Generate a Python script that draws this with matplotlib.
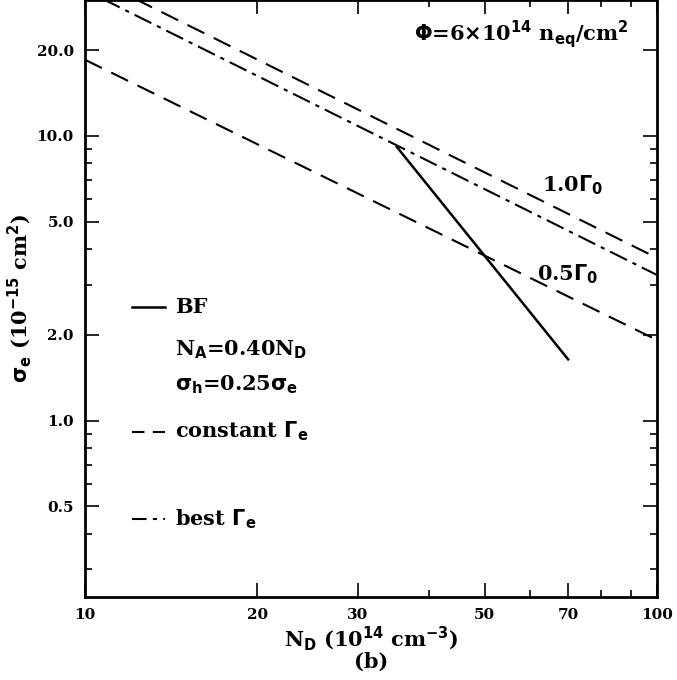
import numpy as np
import matplotlib.pyplot as plt
from matplotlib.ticker import FixedLocator, FixedFormatter, NullFormatter

# values
nd_range = [10, 100]
const_05 = [18.5, 1.92]     # constant Gamma_e, 0.5 Gamma0
const_10 = [37.0, 3.73]     # constant Gamma_e, 1.0 Gamma0
best = [32.5, 3.25]         # best Gamma_e
bf_nd = [35.1, 70]
bf_sigma = [9.15, 1.64]

x_ticks = [10, 20, 30, 50, 70, 100]
y_ticks = [0.5, 1.0, 2.0, 5.0, 10.0, 20.0]

plt.rcParams['font.family'] = 'DejaVu Serif'
plt.rcParams['font.weight'] = 'bold'
plt.rcParams['mathtext.default'] = 'bf'

fig = plt.figure(figsize=(6.77, 6.8), dpi=100)
ax = fig.add_axes([0.1256, 0.122, 0.8444, 0.878])
ax.set_xscale('log')
ax.set_yscale('log')
ax.set_xlim(10, 100)
ax.set_ylim(0.24, 30)

ax.plot(nd_range, const_05, 'k', dashes=(9, 5), lw=1.5)
ax.plot(nd_range, const_10, 'k', dashes=(9, 5), lw=1.5)
ax.plot(nd_range, best, 'k', dashes=(9, 3, 2, 3), lw=1.5)
ax.plot(bf_nd, bf_sigma, 'k-', lw=1.8)

ax.xaxis.set_major_locator(FixedLocator(x_ticks))
ax.xaxis.set_major_formatter(FixedFormatter([str(v) for v in x_ticks]))
ax.xaxis.set_minor_formatter(NullFormatter())
ax.yaxis.set_major_locator(FixedLocator(y_ticks))
ax.yaxis.set_major_formatter(FixedFormatter(['%.1f' % v for v in y_ticks]))
ax.yaxis.set_minor_formatter(NullFormatter())
ax.tick_params(which='both', direction='in', top=True, right=True, width=1.2, labelsize=11)
ax.tick_params(which='major', length=10, pad=8)
ax.tick_params(which='minor', length=5)
for s in ax.spines.values():
    s.set_linewidth(2)

ax.set_xlabel(r'N$_\mathbf{D}$ (10$^{14}$ cm$^{-3}$)', fontsize=15, fontweight='bold', labelpad=2)
ax.set_ylabel(r'$\sigma_\mathbf{e}$ (10$^{-15}$ cm$^2$)', fontsize=15, fontweight='bold', labelpad=2)
fig.text(0.548, 0.012, '(b)', ha='center', va='bottom', fontsize=15)

ax.text(0.95, 0.97, r'$\Phi$=6$\times$10$^{14}$ n$_\mathbf{eq}$/cm$^2$', transform=ax.transAxes,
        ha='right', va='top', fontsize=15)
ax.text(0.80, 0.69, r'1.0$\Gamma_0$', transform=ax.transAxes, fontsize=15, va='center')
ax.text(0.79, 0.54, r'0.5$\Gamma_0$', transform=ax.transAxes, fontsize=15, va='center')

# legend drawn by hand in axes fraction
lx0, lx1, tx = 0.082, 0.14, 0.157
ax.plot([lx0, lx1], [0.485, 0.485], 'k-', lw=1.8, transform=ax.transAxes)
ax.text(tx, 0.485, 'BF', transform=ax.transAxes, fontsize=15, va='center')
ax.text(tx, 0.415, r'N$_\mathbf{A}$=0.40N$_\mathbf{D}$', transform=ax.transAxes, fontsize=15, va='center')
ax.text(tx, 0.355, r'$\sigma_\mathbf{h}$=0.25$\sigma_\mathbf{e}$', transform=ax.transAxes, fontsize=15, va='center')
ax.plot([lx0, lx1], [0.277, 0.277], 'k', dashes=(6, 4), lw=1.5, transform=ax.transAxes)
ax.text(tx, 0.277, r'constant $\Gamma_\mathbf{e}$', transform=ax.transAxes, fontsize=15, va='center')
ax.plot([lx0, lx1], [0.13, 0.13], 'k', dashes=(7, 3, 2, 3), lw=1.5, transform=ax.transAxes)
ax.text(tx, 0.13, r'best $\Gamma_\mathbf{e}$', transform=ax.transAxes, fontsize=15, va='center')

fig.savefig('out.png', dpi=100)
